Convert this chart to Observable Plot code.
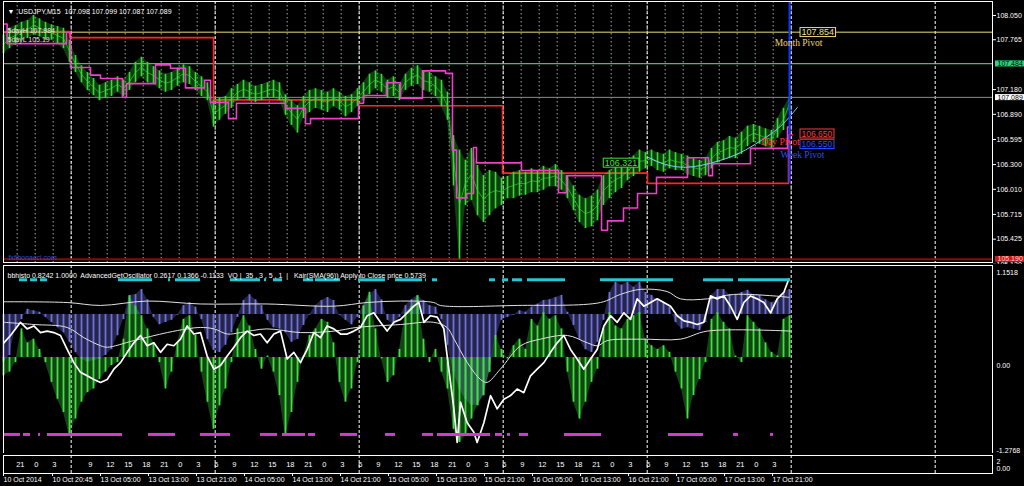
<!DOCTYPE html>
<html>
<head>
<meta charset="utf-8">
<script src="https://cdn.jsdelivr.net/npm/d3@7"></script>
<script src="https://cdn.jsdelivr.net/npm/@observablehq/plot@0.6"></script>
<style>
html,body{margin:0;padding:0;background:#000;overflow:hidden;width:1024px;height:486px;}
#wrap{position:relative;width:1024px;height:486px;background:#000;}
.panel{position:absolute;left:0;}
.panel svg{display:block;}
svg text{white-space:pre;}
</style>
</head>
<body>
<div id="wrap">
  <div class="panel" id="main" style="top:0px"></div>
  <div class="panel" id="ind" style="top:264px"></div>
  <div class="panel" id="mini" style="top:453px"></div>
</div>
<script>
// ---------- DATA (x = hours of trading since first bar) ----------
const priceHigh = [107.82,107.90,107.93,107.97,107.99,108.05,108.01,107.97,107.94,107.92,
 107.90,107.76,107.58,107.46,107.38,107.31,107.23,107.26,107.29,107.33,
 107.29,107.38,107.50,107.56,107.50,107.45,107.40,107.36,107.38,107.43,
 107.47,107.45,107.38,107.33,107.26,107.05,107.08,107.10,107.19,107.24,
 107.29,107.26,107.22,107.24,107.26,107.29,107.26,107.12,107.05,106.99,
 107.10,107.17,107.19,107.17,107.15,107.19,107.15,107.10,107.12,107.19,
 107.26,107.36,107.40,107.36,107.29,107.33,107.24,107.36,107.43,107.46,
 107.40,107.38,107.33,107.29,107.15,106.64,106.47,106.35,106.49,106.29,
 106.17,106.23,106.21,106.14,106.16,106.21,106.23,106.21,106.25,106.23,
 106.28,106.25,106.30,106.23,106.16,106.05,105.94,105.90,105.93,106.00,
 106.17,106.23,106.28,106.29,106.35,106.40,106.47,106.44,106.47,106.44,
 106.42,106.47,106.44,106.42,106.40,106.37,106.35,106.37,106.49,106.56,
 106.58,106.63,106.61,106.68,106.75,106.77,106.75,106.72,106.70,106.84,
 106.96,107.09];
const priceLow = [107.60,107.66,107.70,107.76,107.78,107.82,107.80,107.76,107.76,107.71,
 107.66,107.50,107.38,107.26,107.17,107.11,107.05,107.08,107.10,107.15,
 107.10,107.17,107.26,107.33,107.26,107.24,107.19,107.15,107.17,107.22,
 107.26,107.24,107.17,107.10,107.05,106.74,106.82,106.89,106.96,107.05,
 107.08,107.05,107.03,107.05,107.08,107.08,107.05,106.88,106.76,106.67,
 106.84,106.91,106.96,106.94,106.91,106.98,106.94,106.86,106.91,106.98,
 107.05,107.12,107.19,107.15,107.08,107.10,107.05,107.17,107.22,107.24,
 107.17,107.15,107.10,106.98,106.82,106.05,105.19,105.82,105.88,105.70,
 105.62,105.70,105.78,105.82,105.90,105.90,105.93,105.94,105.97,105.97,
 106.00,106.04,106.04,106.00,105.90,105.76,105.62,105.55,105.57,105.64,
 105.82,105.90,105.97,106.02,106.11,106.16,106.21,106.25,106.28,106.23,
 106.21,106.25,106.23,106.23,106.18,106.16,106.14,106.17,106.25,106.32,
 106.35,106.37,106.37,106.42,106.51,106.56,106.54,106.51,106.49,106.61,
 106.70,106.94];
const redPivotSteps = [[0,107.86],[11,107.79],[35,107.06],[59.17,106.99],[83.17,106.20],[107.33,106.08],[130.83,106.65],[131.5,106.65]];
const magentaSteps = [[0,107.95],[0.6,107.72],[10.5,107.85],[11.17,107.44],[14.5,107.35],[16.17,107.31],[19.83,107.09],[20.5,107.25],
 [25.33,107.47],[27.83,107.43],[30.33,107.20],[33.5,107.29],[34.5,107.03],[37.5,106.84],[38.83,107.02],[47,106.96],[50.33,106.78],
 [51.17,106.84],[59.17,107.02],[60,107.11],[63.83,107.26],[66.17,107.08],[69.83,107.40],[73.67,107.37],[74.83,106.47],[75.5,105.91],
 [77.17,105.96],[78.33,106.50],[78.83,106.32],[86.33,106.23],[92.5,105.97],[93.83,106.17],[99.67,105.53],[100.67,105.64],[103.33,105.79],
 [105.67,105.96],[108.83,106.15],[114,106.38],[117.5,106.17],[118.17,106.31],[124.5,106.49],[130.67,106.74],[131.17,106.74]];
const trendCurve = [[107.3,106.39],[109.5,106.32],[112.8,106.27],[116.2,106.29],[119.5,106.35],[122.8,106.44],[126.2,106.58],[129.5,106.75],[132.3,106.97]];
const levelMonthPivot = 107.854, levelGreen = 107.484, lastClose = 107.089, fiveDayLow = 105.190;
const dayPivot = 106.650, weekPivot = 106.550, markedPrice = 106.321;
const priceTicks = [108.050,107.765,107.180,106.890,106.595,106.300,106.010,105.715,105.425,105.130];

const bbHisto = [-0.65,-0.56,-0.20,-0.07,0.07,0.05,0.03,-0.04,-0.11,-0.18,
 -0.25,-0.38,-0.52,-0.61,-0.65,-0.63,-0.61,-0.56,-0.48,-0.29,
 -0.07,0.26,0.27,0.34,0.20,-0.04,-0.14,-0.11,-0.08,-0.01,
 0.12,0.16,0.10,-0.07,-0.34,-0.49,-0.52,-0.42,-0.25,-0.04,
 0.19,0.27,0.20,0.12,-0.08,-0.18,-0.20,-0.25,-0.38,-0.34,
 -0.15,-0.01,0.12,0.19,0.23,0.19,-0.01,-0.08,-0.14,-0.04,
 0.12,0.26,0.34,0.20,-0.08,-0.14,-0.04,0.12,0.20,0.26,
 0.19,0.12,0.10,-0.07,-0.42,-0.79,-1.02,-1.16,-1.24,-1.24,
 -1.11,-0.79,-0.34,-0.08,-0.04,-0.01,0.05,0.03,0.10,0.14,
 0.19,0.20,0.23,0.26,0.03,-0.15,-0.34,-0.48,-0.52,-0.38,
 -0.08,0.30,0.44,0.40,0.44,0.37,0.44,0.30,0.26,0.20,
 0.16,0.10,-0.11,-0.20,-0.18,-0.20,-0.22,-0.11,0.26,0.34,
 0.34,0.27,0.26,0.30,0.33,0.27,0.26,0.20,0.16,0.20,
 0.30,0.34];
const agoHisto = [-0.25,-0.20,-0.07,0.39,0.20,0.25,0.11,-0.07,-0.34,-0.57,
 -0.75,-1.07,-0.84,-0.61,-0.48,-0.43,-0.30,-0.20,-0.11,-0.07,
 0.25,0.84,0.70,0.57,0.39,0.20,-0.07,-0.43,-0.20,0.20,
 0.52,0.57,0.30,-0.20,-0.61,-0.98,-0.66,-0.43,-0.07,0.39,
 0.57,0.43,0.11,-0.16,0.02,-0.20,-0.52,-1.07,-0.75,-0.34,
 0.02,0.30,0.39,0.52,0.48,0.20,-0.34,-0.61,-0.43,-0.07,
 0.70,0.89,0.39,-0.02,-0.34,-0.25,0.11,0.61,0.70,0.84,
 0.25,-0.07,0.11,-0.20,-0.43,-0.98,-1.16,-1.07,-0.84,-0.66,
 -0.52,-0.20,0.30,0.11,-0.02,0.16,0.25,0.11,0.52,0.43,
 0.61,0.52,0.57,0.39,-0.20,-0.61,-0.84,-0.61,-0.34,-0.16,
 0.39,0.61,0.43,0.39,0.52,0.57,0.61,0.25,0.16,0.11,
 0.16,0.07,-0.20,-0.43,-0.84,-0.52,-0.30,-0.07,0.52,0.61,
 0.48,0.39,0.02,-0.07,0.57,0.48,0.39,0.20,0.07,0.02,
 0.52,0.57];
const kairiLine = [[0.06,0.20],[1.17,0.30],[2.83,0.48],[3.94,0.39],[5.06,0.43],[6.17,0.34],[7.28,0.36],[8.39,0.34],[9.5,0.30],[10.61,0.11],
 [11.72,-0.07],[12.83,-0.20],[13.94,-0.25],[15.06,-0.30],[16.17,-0.34],[17.28,-0.30],[18.39,-0.16],[19.5,-0.07],[20.61,0.07],[21.72,0.20],
 [22.83,0.30],[23.94,0.16],[25.06,0.20],[26.17,0.07],[27.28,0.18],[28.39,0.16],[29.5,0.25],[30.61,0.43],[31.72,0.32],[32.83,0.34],
 [33.94,0.02],[35.06,-0.16],[36.17,-0.11],[37.28,0.02],[38.39,0.14],[39.5,0.27],[40.61,0.36],[41.72,0.30],[42.83,0.32],[43.94,0.20],
 [45.06,0.32],[46.17,0.36],[47.28,-0.02],[48.39,0.07],[49.5,-0.07],[50.61,0.11],[51.72,0.34],[52.83,0.27],[53.94,0.43],[55.06,0.39],
 [56.17,0.32],[57.28,0.32],[58.39,0.36],[59.5,0.41],[60.61,0.57],[61.72,0.61],[62.83,0.48],[63.94,0.36],[65.06,0.48],[66.17,0.52],
 [67.28,0.61],[68.39,0.70],[69.22,0.75],[70.06,0.48],[71.17,0.57],[72.28,0.55],[73.39,0.39],
 [73.94,0.02],[75.06,-0.70],[75.61,-1.16],[76.17,-0.61],[77.28,-0.89],[78.39,-1.02],[78.94,-1.16],[80.06,-0.89],[81.17,-0.52],
 [82.28,-0.70],[83.39,-0.57],[84.5,-0.52],[85.61,-0.43],[86.72,-0.48],[87.83,-0.25],[88.94,-0.16],[90.06,-0.07],[91.17,0.07],[92.28,0.20],
 [93.39,0.30],[94.5,0.11],[95.61,-0.02],[96.72,-0.16],[97.83,-0.02],[98.94,0.11],[100.06,0.43],[101.17,0.57],[102.28,0.48],[103.39,0.61],
 [104.5,0.52],[105.61,0.80],[106.72,0.70],[107.83,0.75],[108.94,0.80],[110.06,0.75],[111.17,0.70],[112.28,0.57],[113.39,0.50],[114.5,0.48],
 [115.61,0.45],[116.72,0.48],[117.83,0.84],[118.94,0.80],[120.06,0.84],[121.17,0.70],[122.28,0.52],[123.39,0.75],[124.5,0.84],[125.61,0.80],
 [126.72,0.75],[127.83,0.61],[128.94,0.80],[130.06,0.89],[130.89,1.07]];
const upperLine = [[0.06,0.76],[10.6,0.75],[16.2,0.71],[23.9,0.77],[32.8,0.73],[43.9,0.73],[55.1,0.70],[60.6,0.75],[66.2,0.77],[71.7,0.75],
 [72.8,0.71],[85.6,0.71],[99.5,0.75],[102.8,0.86],[106.2,0.93],[110.6,0.90],[112.8,0.80],[117.3,0.80],[121.7,0.86],[128.4,0.84],[130.9,0.82]];
const slowLine = [[0.06,0.48],[5.06,0.45],[10.6,0.41],[13.4,0.27],[16.2,0.16],[17.3,0.14],[21.7,0.23],[27.3,0.34],[30.6,0.39],[32.8,0.41],
 [35.1,0.39],[37.3,0.32],[39.5,0.34],[43.9,0.39],[49.5,0.34],[55.1,0.36],[58.9,0.41],[66.2,0.45],[71.7,0.48],[73.9,0.41],[75.1,0.25],
 [77.3,-0.07],[79.5,-0.30],[80.6,-0.34],[82.8,-0.16],[86.2,0.16],[89.5,0.25],[94.0,0.30],[97.3,0.20],[99.0,0.16],[100.6,0.23],
 [106.2,0.25],[112.8,0.25],[117.3,0.36],[131.2,0.36]];
const cyanSegments = [[2.67,4],[4.5,5.67],[6.17,7.33],[19.17,24.83],[27.5,27.83],[28.67,32.83],[37.83,42.83],[43.5,43.83],[45,46.5],[50,51.67],
 [52,56.17],[59.17,63.67],[65.33,69.83],[70.33,70.5],[71.5,72.33],[81,82],[83.17,84.17],[84.83,86.5],[87.33,93.67],[99.5,111.67],
 [116.67,121.67],[122.5,131.17]];
const magentaSegments = [[0,2.83],[3.33,4.5],[5.83,6.17],[7.33,19.83],[24.17,28.67],[32.83,37.83],[42.83,45.67],[46.5,50.33],[50.83,52],
 [56.17,59],[63.67,65.33],[69.83,71.67],[72.33,81.17],[82,83.17],[84,84.5],[86,87.5],[93.5,99.67],[110.83,116.67],[121.67,122.5],[127.83,128.33]];
const cyanLevel = 1.06, magentaLevel = -1.05, bbBase = 0.587;
const indTopLabel = 1.1518, indBottomLabel = -1.2768;

const hourLabels = ["21","0","3","","9","12","15","18","21","0","3","6","9","12","15","18","21","0","3","6",
 "9","12","15","18","21","0","3","6","9","12","15","18","21","0","3","6","9","12","15","18","21","0","3"];
const dateLabels = ["10 Oct 2014","10 Oct 20:45","13 Oct 05:00","13 Oct 13:00","13 Oct 21:00","14 Oct 05:00","14 Oct 13:00",
 "14 Oct 21:00","15 Oct 05:00","15 Oct 13:00","15 Oct 21:00","16 Oct 05:00","16 Oct 13:00","16 Oct 21:00","17 Oct 05:00",
 "17 Oct 13:00","17 Oct 21:00"];
const dateTickH = [0,8.17,16.17,24.17,32.17,40.17,48.17,56.17,64.17,72.17,80.17,88.17,96.17,104.17,112.17,120.17,128.17];

// ---------- LAYOUT ----------
const FONT = "'Liberation Sans', Arial, sans-serif";
const SERIF = "'Liberation Serif', 'DejaVu Serif', serif";
const X_DOMAIN = [0, 164.83];
const style = {background:"#000", color:"#fff", fontFamily:FONT, fontSize:"7px", overflow:"visible"};
const base = {width:1024, marginLeft:3, marginRight:32, style};

const hours = d3.range(priceHigh.length);
const bars = hours.map(i => ({h:i, hi:priceHigh[i], lo:priceLow[i]}));
const pts = arr => arr.map(([h, v]) => ({h, v}));
const gridStart = 2.28, gridStep = 3;
const minorGrid = d3.range(hourLabels.length + 1).map(i => gridStart + gridStep * i);
const dayGrid = d3.range(7).map(i => 11.28 + 24 * i);
const lastH = hours[hours.length - 1];
const Y_MAIN = [105.151, 108.214];
const Y_IND = [-1.31, 1.255];
const GREEN = "#36dc36";

const main = Plot.plot({
  ...base, height:264, marginTop:1, marginBottom:2,
  x:{domain:X_DOMAIN, axis:null},
  y:{domain:Y_MAIN, axis:null},
  marks:[
    Plot.ruleX(minorGrid, {stroke:"#d0d0d0", strokeOpacity:0.8, strokeDasharray:"1.5,2.5"}),
    Plot.ruleX(dayGrid, {stroke:"#ffffff", strokeDasharray:"3,2"}),
    Plot.ruleY([levelMonthPivot], {stroke:"#e8dc7a"}),
    Plot.ruleY([levelGreen], {stroke:"#6ee08e"}),
    Plot.ruleY([lastClose], {stroke:"#8c8c8c"}),
    Plot.ruleY([fiveDayLow], {stroke:"#7c0e0e", strokeWidth:2}),
    Plot.line(pts(redPivotSteps), {x:"h", y:"v", curve:"step-after", stroke:"#ff2626", strokeWidth:1.6}),
    Plot.areaY(bars, {x:"h", y1:"lo", y2:"hi", fill:GREEN, fillOpacity:0.28}),
    Plot.ruleX(bars, {x:"h", y1:"lo", y2:"hi", stroke:GREEN, strokeWidth:1.6}),
    Plot.line(bars, {x:"h", y:d => (d.hi + d.lo) / 2, stroke:GREEN, strokeWidth:0.8, strokeOpacity:0.8}),
    Plot.line(pts(magentaSteps), {x:"h", y:"v", curve:"step-after", stroke:"#f03fc8", strokeWidth:1.6}),
    Plot.line(pts(trendCurve), {x:"h", y:"v", curve:"natural", stroke:"#7cc8f4", strokeWidth:1}),
    Plot.ruleX([lastH], {y1:redPivotSteps[5][1], y2:Y_MAIN[1], stroke:"#1236ff", strokeWidth:2}),
    Plot.text(["▼  USDJPY,M15  107.098 107.099 107.087 107.089"], {frameAnchor:"top-left", dx:4, dy:8, textAnchor:"start", fill:"#fff", fontSize:7}),
    Plot.text(["5dayH 107.984"], {frameAnchor:"top-left", dx:4, dy:27, textAnchor:"start", fill:"#e4e4e4", fontSize:7}),
    Plot.text(["5dayL 105.19"], {frameAnchor:"top-left", dx:4, dy:36, textAnchor:"start", fill:"#e4e4e4", fontSize:7}),
    Plot.text(["fxfibonacci.com"], {frameAnchor:"bottom-left", dx:5, dy:-3, textAnchor:"start", fill:"#3050d0", fontSize:7}),
    Plot.axisY(priceTicks, {anchor:"right", tickSize:3, tickPadding:1, tickFormat:d => d.toFixed(3), fontSize:7}),
    Plot.text([levelMonthPivot], {x:lastH, y:d => d, text:d => d.toFixed(3), dx:12, textAnchor:"start", fill:"#f0e080", fontSize:9}),
    Plot.text(["Month Pivot"], {x:lastH, y:levelMonthPivot, dx:9, dy:10.5, textAnchor:"middle", fill:"#e8d46a", fontSize:9.5, fontFamily:SERIF}),
    Plot.text([dayPivot], {x:lastH, y:d => d, text:d => d.toFixed(3), dx:12, dy:-1, textAnchor:"start", fill:"#ff3a3a", fontSize:8.5}),
    Plot.text([weekPivot], {x:lastH, y:d => d, text:d => d.toFixed(3), dx:12, dy:1, textAnchor:"start", fill:"#2a4cff", fontSize:8.5}),
    Plot.text(["Day Pivot"], {x:lastH, y:dayPivot, dx:10, dy:7, textAnchor:"end", fill:"#ff3a3a", fontSize:9.5, fontFamily:SERIF}),
    Plot.text(["Week Pivot"], {x:lastH, y:weekPivot, dx:13, dy:12, textAnchor:"middle", fill:"#2a4cff", fontSize:9.5, fontFamily:SERIF}),
    Plot.text([markedPrice], {x:trendCurve[0][0], y:d => d, text:d => d.toFixed(3), dx:-10, textAnchor:"end", fill:"#3ee03e", fontSize:9}),
    Plot.text([levelGreen], {x:X_DOMAIN[1], y:d => d, text:d => d.toFixed(3), dx:5, textAnchor:"start", fill:"#000", fontSize:7}),
    Plot.text([lastClose], {x:X_DOMAIN[1], y:d => d, text:d => d.toFixed(3), dx:5, textAnchor:"start", fill:"#000", fontSize:7}),
    Plot.text([fiveDayLow], {x:X_DOMAIN[1], y:d => d, text:d => d.toFixed(3), dx:5, textAnchor:"start", fill:"#ffd8d8", fontSize:7}),
    Plot.frame({stroke:"#fff"})
  ]
});

const ind = Plot.plot({
  ...base, height:189, marginTop:1, marginBottom:0,
  x:{domain:X_DOMAIN, axis:null},
  y:{domain:Y_IND, axis:null},
  marks:[
    Plot.ruleX(dayGrid, {stroke:"#ffffff", strokeDasharray:"3,2"}),
    Plot.areaY(hours, {x:d => d, y1:bbBase, y2:(d, i) => bbBase + bbHisto[i], fill:"#6a6ad2", fillOpacity:0.35}),
    Plot.ruleX(hours, {x:d => d, y1:bbBase, y2:(d, i) => bbBase + bbHisto[i], stroke:"#7070dc", strokeWidth:1.8}),
    Plot.areaY(hours, {x:d => d, y1:0, y2:(d, i) => agoHisto[i], fill:"#3fe03f", fillOpacity:0.3}),
    Plot.ruleX(hours, {x:d => d, y1:0, y2:(d, i) => agoHisto[i], stroke:"#3fe03f", strokeWidth:1.8}),
    Plot.line(pts(upperLine), {x:"h", y:"v", curve:"catmull-rom", stroke:"#e0e0e0", strokeWidth:1}),
    Plot.line(pts(slowLine), {x:"h", y:"v", curve:"catmull-rom", stroke:"#e0e0e0", strokeWidth:1}),
    Plot.line(pts(kairiLine), {x:"h", y:"v", stroke:"#ffffff", strokeWidth:1.7}),
    Plot.ruleY(cyanSegments, {x1:d => d[0], x2:d => d[1], y:cyanLevel, stroke:"#27c6d6", strokeWidth:3}),
    Plot.ruleY(magentaSegments, {x1:d => d[0], x2:d => d[1], y:magentaLevel, stroke:"#d23ad2", strokeWidth:3}),
    Plot.text(["bbhisto 0.8242 1.0000  AdvancedGetOscillator 0.2617 0.1366 -0.1133  VQ |  35 , 3 , 5 , 1  |   Kair(SMA(96)) Apply to Close price 0.5739"],
      {frameAnchor:"top-left", dx:4, dy:8, textAnchor:"start", fill:"#fff", fontSize:7}),
    Plot.text([indTopLabel, indBottomLabel], {x:X_DOMAIN[1], y:d => d, text:d => d.toFixed(4), dx:4, textAnchor:"start", fill:"#fff", fontSize:7}),
    Plot.text([0], {x:X_DOMAIN[1], y:d => d, text:d => d.toFixed(2), dx:4, dy:8, textAnchor:"start", fill:"#fff", fontSize:7}),
    Plot.frame({stroke:"#fff"})
  ]
});

const mini = Plot.plot({
  ...base, height:33, marginTop:2, marginBottom:13,
  x:{domain:X_DOMAIN, axis:null},
  marks:[
    Plot.ruleX(dayGrid, {stroke:"#ffffff", strokeDasharray:"3,2"}),
    Plot.text(hourLabels, {x:(d, i) => gridStart + gridStep * i, frameAnchor:"middle", textAnchor:"start", dx:-1, fill:"#fff", fontSize:7.5}),
    Plot.axisX(dateTickH, {anchor:"bottom", tickSize:3, tickFormat:() => ""}),
    Plot.text(dateLabels, {x:(d, i) => dateTickH[i], frameAnchor:"bottom", lineAnchor:"top", dy:4, textAnchor:"start", fill:"#fff", fontSize:7}),
    Plot.text(["2"], {frameAnchor:"top-right", dx:4, dy:4, textAnchor:"start", fill:"#fff", fontSize:7}),
    Plot.text(["0.00"], {frameAnchor:"top-right", dx:4, dy:11, textAnchor:"start", fill:"#fff", fontSize:7}),
    Plot.frame({stroke:"#fff"})
  ]
});

document.getElementById("main").append(main);
document.getElementById("ind").append(ind);
document.getElementById("mini").append(mini);

// boxes behind selected labels
const boxSpecs = {
  "107.854": {stroke:"#e8dc7a", fill:"#000", px:1.5},
  "106.650": {stroke:"#ff3a3a", fill:"#000", px:1.5},
  "106.550": {stroke:"#2a4cff", fill:"#000", px:1.5},
  "106.321": {stroke:"#3ee03e", fill:"#000", px:1.5},
  "107.484": {stroke:"none", fill:"#2bd47a", px:2.5},
  "107.089": {stroke:"none", fill:"#ffffff", px:2.5},
  "105.190": {stroke:"none", fill:"#d81414", px:2.5}
};
main.querySelectorAll("text").forEach(t => {
  const s = boxSpecs[t.textContent];
  if (!s) return;
  const b = t.getBBox();
  const r = document.createElementNS("http://www.w3.org/2000/svg", "rect");
  r.setAttribute("x", b.x - s.px);
  r.setAttribute("y", b.y + 0.5);
  r.setAttribute("width", b.width + 2 * s.px);
  r.setAttribute("height", b.height - 1);
  r.setAttribute("fill", s.fill);
  r.setAttribute("stroke", s.stroke);
  if (t.getAttribute("transform")) r.setAttribute("transform", t.getAttribute("transform"));
  t.parentNode.insertBefore(r, t);
});
</script>
</body>
</html>
